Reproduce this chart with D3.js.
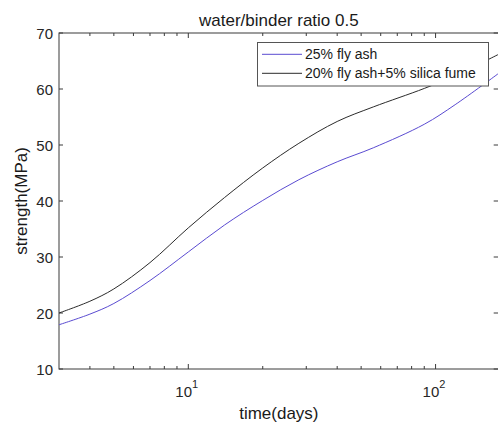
<!DOCTYPE html>
<html>
<head>
<meta charset="utf-8">
<script src="https://cdn.jsdelivr.net/npm/d3@7"></script>
<style>
  body { margin: 0; background: #fff; }
  svg { display: block; font-family: "Liberation Sans", Arial, sans-serif; }
  .tick-label { font-size: 15px; fill: #262626; }
</style>
</head>
<body>
<div id="canvas-svg"></div>
<script>
// compressive strength vs age
var days = [3, 4, 5, 7, 10, 14, 20, 28, 40, 56, 90, 120, 180];
var flyAsh = [17.9, 19.8, 21.7, 25.8, 30.9, 35.7, 40.1, 43.8, 47.0, 49.5, 53.7, 57.2, 62.8];
var flyAshSilica = [20.0, 22.1, 24.3, 29.0, 35.2, 40.6, 45.9, 50.3, 54.2, 56.8, 60.1, 62.4, 66.2];
var seriesNames = ["25% fly ash", "20% fly ash+5% silica fume"];
var seriesColors = ["#5a4bd1", "#2b2b2b"];
var yTicks = [10, 20, 30, 40, 50, 60, 70];
var xMajor = [10, 100];
var xMinor = [4, 5, 6, 7, 8, 9, 20, 30, 40, 50, 60, 70, 80, 90];

var width = 498, height = 427;
var plotLeft = 59, plotRight = 498.7, plotTop = 33, plotBottom = 369;

var svg = d3.select("#canvas-svg").append("svg")
    .attr("width", width)
    .attr("height", height);

svg.append("rect").attr("width", width).attr("height", height).attr("fill", "#fff");

var x = d3.scaleLog().domain([3, 180]).range([plotLeft, plotRight]);
var y = d3.scaleLinear().domain([10, 70]).range([plotBottom, plotTop]);

var axisColor = "#3a3a3a";

// box
svg.append("rect")
    .attr("x", plotLeft).attr("y", plotTop)
    .attr("width", plotRight - plotLeft).attr("height", plotBottom - plotTop)
    .attr("fill", "none").attr("stroke", axisColor).attr("stroke-width", 1);

// y ticks (inward, both sides)
yTicks.forEach(function(v) {
    svg.append("line").attr("x1", plotLeft).attr("x2", plotLeft + 4)
        .attr("y1", y(v)).attr("y2", y(v)).attr("stroke", axisColor);
    svg.append("line").attr("x1", plotRight).attr("x2", plotRight - 5)
        .attr("y1", y(v)).attr("y2", y(v)).attr("stroke", axisColor);
    svg.append("text").attr("class", "tick-label")
        .attr("x", plotLeft - 6).attr("y", y(v) + 5.5)
        .attr("text-anchor", "end")
        .text(v);
});

// x ticks, top and bottom
xMajor.concat(xMinor).forEach(function(v) {
    var len = xMajor.indexOf(v) >= 0 ? 5 : 3;
    svg.append("line").attr("x1", x(v)).attr("x2", x(v))
        .attr("y1", plotBottom).attr("y2", plotBottom - len).attr("stroke", axisColor);
    svg.append("line").attr("x1", x(v)).attr("x2", x(v))
        .attr("y1", plotTop).attr("y2", plotTop + len).attr("stroke", axisColor);
});

xMajor.forEach(function(v) {
    var t = svg.append("text").attr("class", "tick-label")
        .attr("x", x(v) - 13).attr("y", 397);
    t.append("tspan").text("10");
    t.append("tspan").attr("dy", -9).attr("font-size", "11px").text(Math.round(Math.log10(v)));
});

// lines
var line = d3.line()
    .x(function(d) { return x(d[0]); })
    .y(function(d) { return y(d[1]); })
    .curve(d3.curveCatmullRom.alpha(0.5));

[flyAsh, flyAshSilica].forEach(function(vals, i) {
    svg.append("path")
        .datum(days.map(function(d, j) { return [d, vals[j]]; }))
        .attr("fill", "none")
        .attr("stroke", seriesColors[i])
        .attr("stroke-width", 1)
        .attr("d", line);
});

// title and labels
svg.append("text")
    .attr("x", (plotLeft + plotRight) / 2).attr("y", 25.5)
    .attr("text-anchor", "middle")
    .attr("font-size", "17px").attr("fill", "#1a1a1a")
    .text("water/binder ratio 0.5");

svg.append("text")
    .attr("x", (plotLeft + plotRight) / 2).attr("y", 419)
    .attr("text-anchor", "middle")
    .attr("font-size", "17px").attr("fill", "#1a1a1a")
    .text("time(days)");

svg.append("text")
    .attr("transform", "translate(27," + ((plotTop + plotBottom) / 2) + ") rotate(-90)")
    .attr("text-anchor", "middle")
    .attr("font-size", "17px").attr("fill", "#1a1a1a")
    .text("strength(MPa)");

// legend
var lg = svg.append("g");
lg.append("rect")
    .attr("x", 257.5).attr("y", 42.5)
    .attr("width", 231).attr("height", 43.5)
    .attr("fill", "#fff").attr("stroke", "#555").attr("stroke-width", 1);

seriesNames.forEach(function(name, i) {
    var ly = 54.3 + i * 19;
    lg.append("line").attr("x1", 262).attr("x2", 302)
        .attr("y1", ly).attr("y2", ly)
        .attr("stroke", seriesColors[i]).attr("stroke-width", 1);
    lg.append("text").attr("x", 305).attr("y", ly + 5)
        .attr("font-size", "14px").attr("fill", "#1a1a1a")
        .text(name);
});
</script>
</body>
</html>
